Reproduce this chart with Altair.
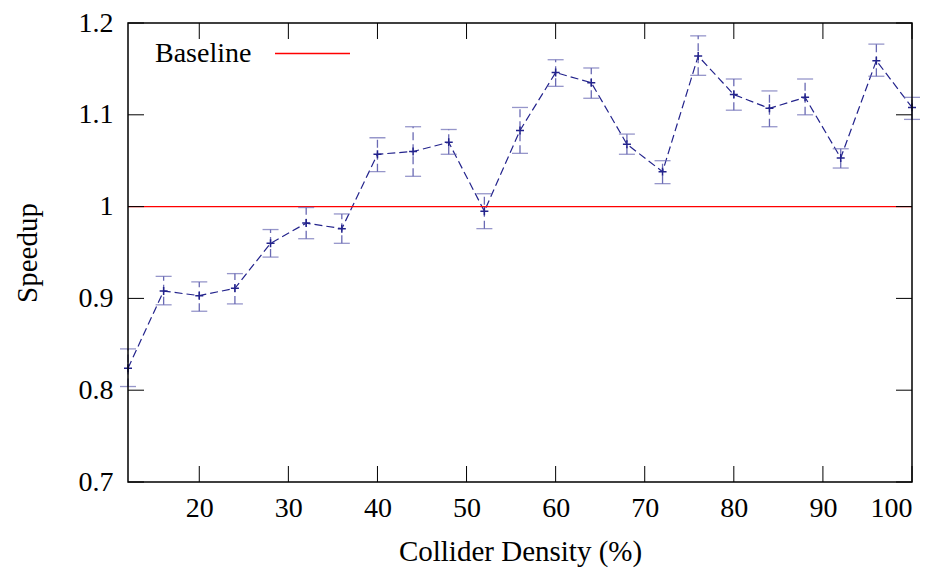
import altair as alt
import pandas as pd

density = [12, 16, 20, 24, 28, 32, 36, 40, 44, 48, 52, 56, 60, 64, 68, 72, 76, 80, 84, 88, 92, 96, 100]
speedup = [0.824, 0.908, 0.903, 0.911, 0.960, 0.982, 0.976, 1.057, 1.060, 1.070, 0.995, 1.083, 1.146, 1.135,
           1.068, 1.038, 1.164, 1.122, 1.107, 1.119, 1.053, 1.159, 1.108]
err_hi = [0.845, 0.924, 0.918, 0.927, 0.975, 0.999, 0.992, 1.075, 1.087, 1.084, 1.014, 1.108, 1.160, 1.151,
          1.079, 1.050, 1.186, 1.139, 1.126, 1.139, 1.063, 1.177, 1.119]
err_lo = [0.804, 0.893, 0.886, 0.894, 0.945, 0.965, 0.960, 1.038, 1.033, 1.057, 0.976, 1.058, 1.131, 1.118,
          1.057, 1.025, 1.143, 1.105, 1.087, 1.100, 1.042, 1.142, 1.095]
baseline = [1.0]
x_ticks = [20, 30, 40, 50, 60, 70, 80, 90, 100]
y_ticks = [0.7, 0.8, 0.9, 1.0, 1.1, 1.2]

FONT = "Liberation Serif"
W, H = 784, 459
BLUE = "#23238c"
ERR = "#6a6ab4"

df = pd.DataFrame({"x": density, "y": speedup, "hi": err_hi, "lo": err_lo})
xt = pd.DataFrame({"t": x_ticks})
yt = pd.DataFrame({"t": y_ticks})
bl = pd.DataFrame({"b": baseline})
leg = pd.DataFrame({"label": ["Baseline"]})

xscale = alt.Scale(domain=[12, 100], nice=False, zero=False)
yscale = alt.Scale(domain=[0.7, 1.2], nice=False, zero=False)

xaxis = alt.Axis(values=x_ticks, ticks=False, tickSize=0, grid=False, domain=False,
                 labelFont=FONT, labelFontSize=28, labelColor="black", labelPadding=12,
                 title="Collider Density (%)", titleFont=FONT, titleFontSize=29,
                 titleFontWeight="normal", titleColor="black",
                 titleX=W / 2, titleY=69, titleBaseline="middle", titleAlign="center")
yaxis = alt.Axis(values=y_ticks, ticks=False, tickSize=0, grid=False, domain=False,
                 labelFont=FONT, labelFontSize=28, labelColor="black", labelPadding=15,
                 labelExpr="datum.value == 1 ? '1' : format(datum.value, '.1f')",
                 title="Speedup", titleFont=FONT, titleFontSize=29,
                 titleFontWeight="normal", titleColor="black",
                 titleX=-101, titleY=H / 2, titleBaseline="middle", titleAlign="center")

X = alt.X("x:Q", scale=xscale, axis=xaxis)
Y = alt.Y("y:Q", scale=yscale, axis=yaxis)

base_rule = alt.Chart(bl).mark_rule(color="#ff0000", strokeWidth=1.3).encode(
    y=alt.Y("b:Q", scale=yscale), x=alt.value(0), x2=alt.value(W))

err = alt.Chart(df).mark_rule(color=ERR, strokeWidth=1.3, strokeDash=[8, 4]).encode(
    x=alt.X("x:Q", scale=xscale), y=alt.Y("lo:Q", scale=yscale), y2="hi:Q")
cap_hi = alt.Chart(df).mark_tick(color=ERR, thickness=1.3, size=16, orient="horizontal",
                                 strokeDash=[6, 4]).encode(
    x=alt.X("x:Q", scale=xscale), y=alt.Y("hi:Q", scale=yscale))
cap_lo = alt.Chart(df).mark_tick(color=ERR, thickness=1.3, size=16, orient="horizontal",
                                 strokeDash=[6, 4]).encode(
    x=alt.X("x:Q", scale=xscale), y=alt.Y("lo:Q", scale=yscale))

line = alt.Chart(df).mark_line(color=BLUE, strokeWidth=1.2, strokeDash=[8, 4]).encode(x=X, y=Y)
pts = alt.Chart(df).mark_point(shape="M-1,0L1,0M0,-1L0,1", size=64, filled=False,
                               color=BLUE, strokeWidth=1.5, opacity=1).encode(
    x=alt.X("x:Q", scale=xscale), y=alt.Y("y:Q", scale=yscale))

tick_b = alt.Chart(xt).mark_rule(color="black", strokeWidth=1).encode(
    x=alt.X("t:Q", scale=xscale), y=alt.value(H), y2=alt.value(H - 16))
tick_t = alt.Chart(xt).mark_rule(color="black", strokeWidth=1).encode(
    x=alt.X("t:Q", scale=xscale), y=alt.value(0), y2=alt.value(16))
tick_l = alt.Chart(yt).mark_rule(color="black", strokeWidth=1).encode(
    y=alt.Y("t:Q", scale=yscale), x=alt.value(0), x2=alt.value(16))
tick_r = alt.Chart(yt).mark_rule(color="black", strokeWidth=1).encode(
    y=alt.Y("t:Q", scale=yscale), x=alt.value(W), x2=alt.value(W - 16))

frame = alt.Chart(leg).mark_rect(fill=None, stroke="black", strokeWidth=1.5).encode(
    x=alt.value(0), x2=alt.value(W), y=alt.value(0), y2=alt.value(H))

leg_text = alt.Chart(leg).mark_text(font=FONT, fontSize=28, align="left", baseline="alphabetic",
                                    color="black").encode(
    text="label:N", x=alt.value(27), y=alt.value(39))
leg_line = alt.Chart(leg).mark_rule(color="#ff0000", strokeWidth=1.3).encode(
    x=alt.value(147), x2=alt.value(222), y=alt.value(30.5))

chart = alt.layer(line, base_rule, err, cap_hi, cap_lo, pts, tick_b, tick_t, tick_l, tick_r,
                  frame, leg_text, leg_line).properties(
    width=W, height=H,
    padding={"left": 120, "top": 15, "right": 22, "bottom": 88},
    autosize=alt.AutoSizeParams(type="none"),
).configure(background="white").configure_view(stroke=None)

chart.save("out.html", embed_options={"renderer": "svg", "actions": False})
